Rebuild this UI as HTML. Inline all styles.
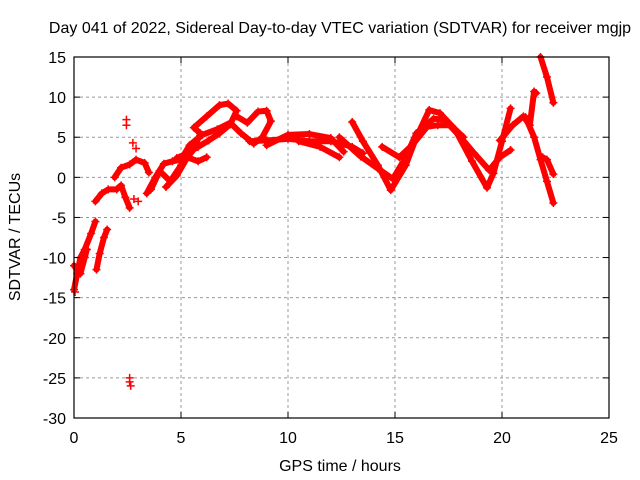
<!DOCTYPE html>
<html><head><meta charset="utf-8"><style>
body{margin:0;background:#fff}
svg{display:block;font-family:"Liberation Sans",sans-serif}
</style></head><body>
<svg id="c" width="640" height="480">
<text x="340" y="33" text-anchor="middle" font-size="16">Day 041 of 2022, Sidereal Day-to-day VTEC variation (SDTVAR) for receiver mgjp</text>
<text x="340" y="471" text-anchor="middle" font-size="16">GPS time / hours</text>
<text transform="translate(20,237) rotate(-90)" text-anchor="middle" font-size="16">SDTVAR / TECUs</text>
<g id="grid"></g><g id="marks"></g><g id="axes"></g>
</svg>
<script>
const xTicks=[0,5,10,15,20,25];
const yTicks=[15,10,5,0,-5,-10,-15,-20,-25,-30];
const track1=[[0.0,-14],[0.15,-12],[0.3,-10],[0.5,-9],[0.8,-7],[1.0,-5.5]];
const track2=[[1.05,-11.5],[1.2,-9.5],[1.4,-7.5],[1.55,-6.5]];
const track3=[[0.0,-11],[0.3,-12],[0.5,-10],[0.6,-9]];
const track4=[[1.0,-3],[1.3,-2],[1.6,-1.5],[2.0,-1.5],[2.2,-1],[2.4,-2.5],[2.6,-3.8]];
const track5=[[1.9,0],[2.2,1.2],[2.6,1.6],[2.9,2.2],[3.3,1.8],[3.5,0.6]];
const track6=[[3.4,-2],[3.8,0],[4.2,1.7],[4.6,2.0],[5.0,2.2],[5.4,4],[6.0,5.3],[6.7,6.0],[7.3,6.8],[7.8,5.5],[8.4,4.2],[8.8,5.0],[9.2,7.0],[9.0,8.3],[8.6,8.2],[8.1,6.8],[7.6,7.6]];
const track7=[[3.6,-1.5],[4.0,0.8],[4.5,-0.5],[5.0,1.5],[5.6,3.5],[5.9,5.5],[5.6,6.2],[6.2,7.6],[6.8,9.0],[7.2,9.2],[7.6,8.3],[7.3,6.6],[6.8,5.5],[6.3,4.6],[5.8,3.8],[5.3,3.0],[4.8,2.4]];
const track8=[[4.3,-1.2],[4.8,0.2],[5.3,2.5],[5.8,2.0],[6.2,2.5]];
const track9=[[8.2,4.5],[9,4.6],[10,4.8],[11,4.5],[12,4.5],[12.5,4.2],[13,3.8],[13.5,3.0]];
const track10=[[9,4],[10,5.3],[11,5.4],[12,4.9],[12.6,3.2]];
const track11=[[10.5,4.5],[11.5,3.8],[12.4,2.5]];
const track12=[[13.0,6.9],[13.5,4.5],[14.2,1.5],[14.8,-1.6],[15.5,1.5],[16.0,5.0],[16.6,8.4],[17.1,8.0],[17.8,6.0],[18.6,2.0],[19.3,-1.3],[19.6,0.5],[20.0,4.5],[20.4,8.6]];
const track13=[[12.4,5.0],[13.4,2.6],[14.2,1.1],[14.9,-0.2],[15.5,2.5],[16.0,5.5],[16.8,7.3],[17.3,7.2],[18.0,5.2],[18.7,3.0],[19.4,0.9],[19.9,2.5],[20.4,3.4]];
const track14=[[14.4,3.8],[15.2,2.5],[15.8,4.0],[16.5,6.3],[17.0,6.5],[17.6,6.5],[18.2,5.0]];
const track15=[[19.9,4.6],[20.5,6.5],[21.0,7.6],[21.3,6.5],[21.5,10.7],[21.6,10.5]];
const track16=[[21.8,15],[22.1,12.5],[22.4,9.3]];
const track17=[[21.1,7.5],[21.5,5.0],[21.8,2.2],[22.1,-0.5],[22.4,-3.2]];
const track18=[[21.9,2.5],[22.1,2.2],[22.4,0.4]];
const isolated=[[2.45,7.2],[2.45,6.5],[2.75,4.3],[2.9,3.6],[2.6,-25.5],[2.6,-25.0],[2.65,-26],[2.8,-2.7],[3.0,-3],[0.05,-14.3]];
const tracks=[track1,track2,track3,track4,track5,track6,track7,track8,track9,track10,track11,track12,track13,track14,track15,track16,track17,track18];

const L=74,R=609,T=57,B=418;
const xs=h=>L+(h-0)/25*(R-L);
const ys=v=>T+(15-v)/45*(B-T);
const NS="http://www.w3.org/2000/svg";
function mk(tag,attrs,parent){const e=document.createElementNS(NS,tag);for(const k in attrs)e.setAttribute(k,attrs[k]);parent.appendChild(e);return e;}
const grid=document.getElementById('grid'),marks=document.getElementById('marks'),axes=document.getElementById('axes');
xTicks.forEach(t=>{
 if(t>0&&t<25){const g=mk('line',{x1:xs(t),x2:xs(t),y1:T,y2:B,stroke:'#999','stroke-dasharray':'3,3','stroke-width':1},grid);
 
 }
 const tk=mk('line',{x1:xs(t),x2:xs(t),y1:B,y2:B-6,stroke:'#000'},axes);
 
 
 const tk2=mk('line',{x1:xs(t),x2:xs(t),y1:T,y2:T+6,stroke:'#000'},axes);
 
 
 const lb=mk('text',{x:xs(t),y:B+25,'text-anchor':'middle','font-size':16},axes);lb.textContent=t;
 
 
});
yTicks.forEach(t=>{
 if(t<15&&t>-30){const g=mk('line',{x1:L,x2:R,y1:ys(t),y2:ys(t),stroke:'#999','stroke-dasharray':'3,3','stroke-width':1},grid);
 
 }
 const tk=mk('line',{x1:L,x2:L+6,y1:ys(t),y2:ys(t),stroke:'#000'},axes);
 
 
 const tk2=mk('line',{x1:R,x2:R-6,y1:ys(t),y2:ys(t),stroke:'#000'},axes);
 
 
 const lb=mk('text',{x:L-8,y:ys(t)+6,'text-anchor':'end','font-size':16},axes);lb.textContent=t;
 
 
});
const fr=mk('rect',{x:L,y:T,width:R-L,height:B-T,fill:'none',stroke:'#000','stroke-width':1.2},axes);


function plus(h,v){
 const x=xs(h),y=ys(v);
 const p=mk('path',{d:`M${x-4},${y}H${x+4}M${x},${y-4}V${y+4}`,stroke:'#f00','stroke-width':1.5,fill:'none'},marks);
 
 
}
tracks.forEach(tr=>{
 const pl=mk('polyline',{points:tr.map(p=>xs(p[0])+','+ys(p[1])).join(' '),fill:'none',stroke:'#f00','stroke-width':6,'stroke-linejoin':'round','stroke-linecap':'round'},marks);
 
 
 tr.forEach(p=>plus(p[0],p[1]));
});
isolated.forEach(p=>plus(p[0],p[1]));
</script>
</body></html>
